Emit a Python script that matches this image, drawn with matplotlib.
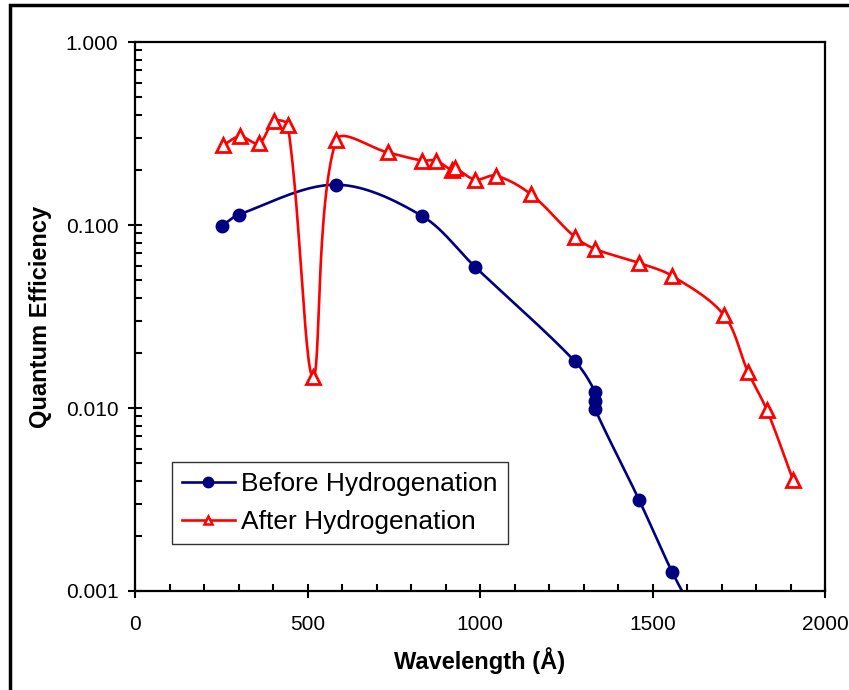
import numpy as np
import matplotlib
matplotlib.use("Agg")
import matplotlib.pyplot as plt
from matplotlib.lines import Line2D
from matplotlib.patches import Rectangle
from matplotlib.ticker import FixedLocator, FuncFormatter, NullFormatter

plt.rcParams["font.family"] = ["Liberation Sans", "DejaVu Sans"]

# data
before_wl = [252, 301, 583, 832, 986, 1275, 1333, 1333, 1333, 1461, 1557, 1640]
before_qe = [0.099, 0.114, 0.166, 0.112, 0.059, 0.018, 0.0123, 0.0109, 0.0099,
             0.00315, 0.00127, 0.00065]

after_wl = [255, 304, 359, 403, 443, 516, 583, 733, 832, 872, 919, 928, 986,
            1046, 1148, 1275, 1333, 1461, 1557, 1707, 1777, 1832, 1907]
after_qe = [0.272, 0.305, 0.279, 0.369, 0.351, 0.0147, 0.290, 0.249, 0.225,
            0.225, 0.199, 0.204, 0.177, 0.186, 0.147, 0.086, 0.074, 0.062,
            0.0527, 0.0322, 0.0157, 0.0097, 0.00406]

x_ticks = [0, 500, 1000, 1500, 2000]
y_ticks = [0.001, 0.01, 0.1, 1.0]

W, H = 849, 690
AX_L, AX_R, AX_T, AX_B = 135, 825, 42, 591


def smooth(xs, ys, n=30):
    """Excel-like smoothed line: bezier in screen space, tangents scaled by segment length."""
    pw, ph = AX_R - AX_L, AX_B - AX_T
    px = np.asarray(xs, float) / 2000 * pw
    py = (np.log10(ys) + 3) / 3 * ph
    pts = np.column_stack([px, py])
    out = []
    t = np.linspace(0, 1, n)[:, None]
    last = len(pts) - 1
    for i in range(last):
        p0 = pts[max(i - 1, 0)]
        p1 = pts[i]
        p2 = pts[i + 1]
        p3 = pts[min(i + 2, last)]
        d01 = np.hypot(*(p1 - p0))
        d12 = np.hypot(*(p2 - p1))
        d23 = np.hypot(*(p3 - p2))
        f1 = d12 / (d01 + d12) / 3 if d01 + d12 > 0 else 0
        f2 = d12 / (d12 + d23) / 3 if d12 + d23 > 0 else 0
        c1 = p1 + (p2 - p0) * f1
        c2 = p2 - (p3 - p1) * f2
        seg = ((1 - t) ** 3 * p1 + 3 * (1 - t) ** 2 * t * c1
               + 3 * (1 - t) * t ** 2 * c2 + t ** 3 * p2)
        out.append(seg)
    out = np.vstack(out)
    return out[:, 0] / pw * 2000, 10 ** (out[:, 1] / ph * 3 - 3)


fig = plt.figure(figsize=(W / 100, H / 100), dpi=100)
ax = fig.add_axes([AX_L / W, 1 - AX_B / H, (AX_R - AX_L) / W, (AX_B - AX_T) / H])

blue = "#000080"
red = "#FF0000"

sx, sy = smooth(before_wl, before_qe)
ax.plot(sx, sy, color=blue, lw=1.9)
ax.plot(before_wl, before_qe, ls="none", marker="o", ms=9, color=blue)

sx, sy = smooth(after_wl, after_qe)
ax.plot(sx, sy, color=red, lw=1.9)
ax.plot(after_wl, after_qe, ls="none", marker="^", ms=9.5, mfc="white",
        mec=red, mew=2.0)

ax.set_yscale("log")
ax.set_xlim(0, 2000)
ax.set_ylim(0.001, 1.0)

ax.xaxis.set_major_locator(FixedLocator(x_ticks))
ax.xaxis.set_minor_locator(FixedLocator(np.arange(0, 2001, 100)))
ax.yaxis.set_major_locator(FixedLocator(y_ticks))
minors = [m * 10.0 ** e for e in range(-3, 0) for m in range(2, 10)]
ax.yaxis.set_minor_locator(FixedLocator(minors))
ax.yaxis.set_major_formatter(FuncFormatter(lambda v, p: f"{v:.3f}"))
ax.yaxis.set_minor_formatter(NullFormatter())
ax.xaxis.set_major_formatter(FuncFormatter(lambda v, p: f"{v:.0f}"))

ax.tick_params(which="major", direction="inout", length=10, width=1.5,
               labelsize=15)
ax.tick_params(axis="x", which="major", pad=12)
ax.tick_params(axis="y", which="major", pad=7)
ax.tick_params(which="minor", direction="in", length=5, width=1.5)
for s in ax.spines.values():
    s.set_linewidth(1.6)

ax.set_xlabel("Wavelength (Å)", fontsize=17, fontweight="bold", labelpad=10)
ax.set_ylabel("Quantum Efficiency", fontsize=17, fontweight="bold", labelpad=10)

handles = [
    Line2D([], [], color=blue, lw=1.9, marker="o", ms=7.5),
    Line2D([], [], color=red, lw=1.9, marker="^", ms=6, mfc="white", mec=red, mew=1.8),
]
leg = ax.legend(handles, ["Before Hydrogenation", "After Hydrogenation"],
                loc="lower left", bbox_to_anchor=((172 - AX_L) / (AX_R - AX_L),
                                                  (AX_B - 544) / (AX_B - AX_T)),
                fontsize=19, frameon=True, fancybox=False, edgecolor="black",
                handlelength=2.0, handletextpad=0.25, borderpad=0.38,
                labelspacing=0.53, borderaxespad=0)
leg.get_frame().set_linewidth(1.0)

fig.patches.append(Rectangle((10 / W, -0.05), 1.1, 1 - 5 / H + 0.05,
                             transform=fig.transFigure, fill=False,
                             edgecolor="black", lw=2.5, clip_on=False))

fig.savefig("out.png", dpi=100)
